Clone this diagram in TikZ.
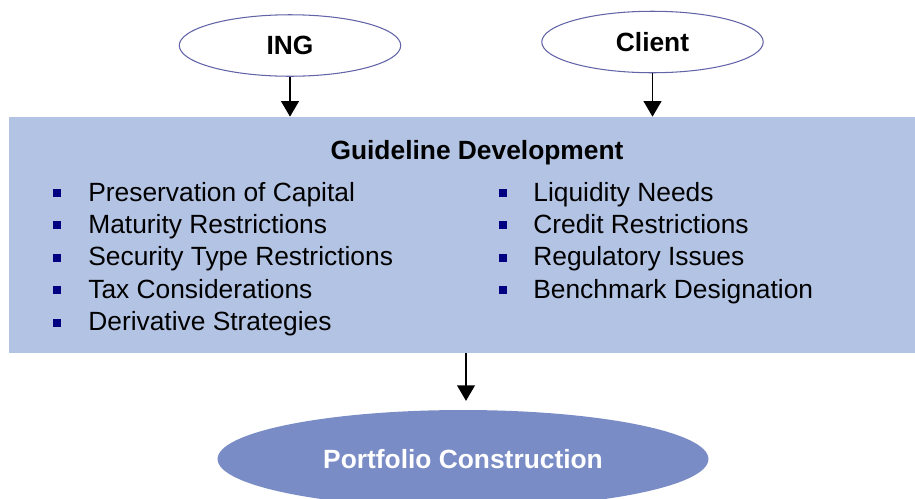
\documentclass[tikz,border=0pt]{standalone}
\usepackage{fontspec}
\setmainfont{Liberation Sans}
\usetikzlibrary{shapes.geometric,arrows.meta}
\definecolor{boxblue}{HTML}{B3C3E3}
\definecolor{portblue}{HTML}{7A8CC6}
\definecolor{rimblue}{HTML}{6264A8}
\definecolor{dotblue}{HTML}{000080}

\begin{document}
\begin{tikzpicture}[x=0.02cm, y=-0.02cm,
    every node/.style={font=\fontsize{15}{18}\selectfont, inner sep=0pt},
    party/.style={ellipse, draw=rimblue, line width=0.6pt, fill=white,
        minimum width=4.43cm, minimum height=1.23cm, font=\fontsize{15}{18}\selectfont\bfseries},
    bullet/.style={rectangle, fill=dotblue, minimum size=0.16cm},
    flow/.style={-{Triangle[width=10pt,length=8.8pt]}, line width=1.1pt}]
    \useasboundingbox (0,0) rectangle (915,498);

    \node[party] (ing) at (290,45.5) {ING};
    \node[party] (client) at (652.5,42) {Client};

    \node[rectangle, fill=boxblue, minimum width=18.3cm, minimum height=4.72cm] (guide) at (466,235) {};
    \node[font=\fontsize{15}{18}\selectfont\bfseries, anchor=base] (title) at (477,159) {Guideline Development};

    \foreach \t [count=\i] in {Preservation of Capital, Maturity Restrictions,
        Security Type Restrictions, Tax Considerations, Derivative Strategies} {
        \node[bullet] (LB\i) at (57, {193+32.4*(\i-1)}) {};
        \node[anchor=base west] (L\i) at (88, {201+32.4*(\i-1)}) {\t};
    }
    \foreach \t [count=\i] in {Liquidity Needs, Credit Restrictions,
        Regulatory Issues, Benchmark Designation} {
        \node[bullet] (RB\i) at (503, {193+32.4*(\i-1)}) {};
        \node[anchor=base west] (R\i) at (533, {201+32.4*(\i-1)}) {\t};
    }

    \node[ellipse, fill=portblue, text=white, minimum width=9.82cm, minimum height=1.96cm,
        font=\fontsize{15}{18}\selectfont\bfseries] (port) at (463,459) {Portfolio Construction};

    \draw[flow] (ing.south) -- (ing.south |- guide.north);
    \draw[flow] (client.south) -- (client.south |- guide.north);
    \draw[flow, shorten >=5pt] ([xshift=0.06cm]guide.south -| port.north) -- ([xshift=0.06cm]port.north);
\end{tikzpicture}
\end{document}
